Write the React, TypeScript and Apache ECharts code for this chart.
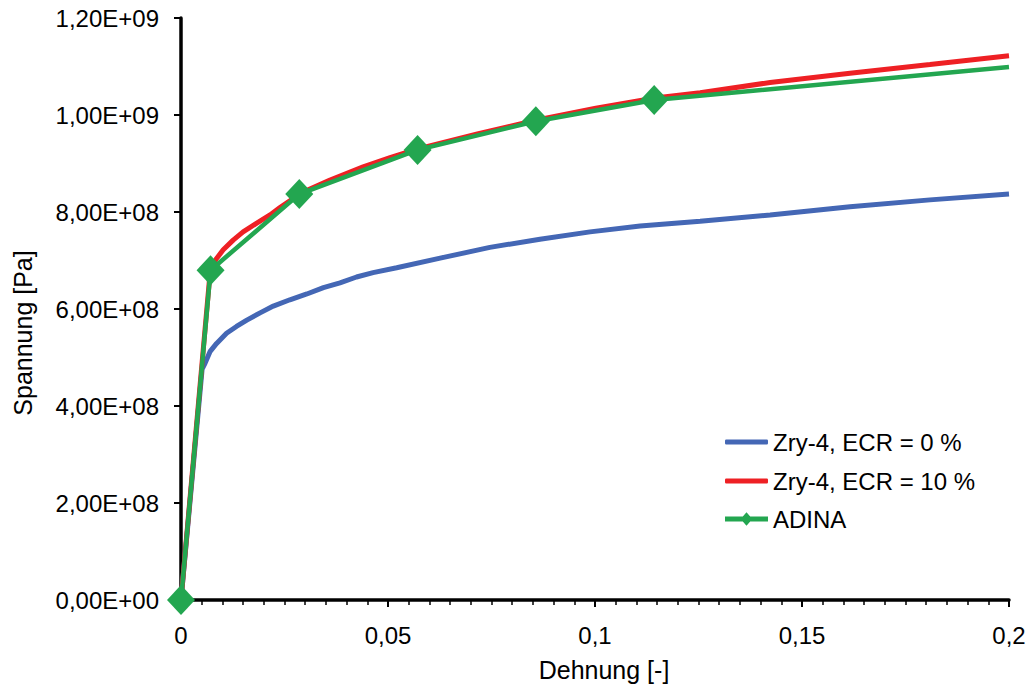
import React, { useEffect, useRef } from "react";
import * as echarts from "echarts";

const xTicks = { min: 0, max: 0.2, interval: 0.05 };
const yTicks = { min: 0, max: 1.2e9, interval: 2e8 };

const seriesNames = ["Zry-4, ECR = 0 %", "Zry-4, ECR = 10 %", "ADINA"];
const axisNames = { x: "Dehnung [-]", y: "Spannung [Pa]" };

const ecr0: [number, number][] = [
  [0, 0],
  [0.0051, 4.76e8],
  [0.0058, 4.88e8],
  [0.007, 5.12e8],
  [0.0086, 5.29e8],
  [0.011, 5.5e8],
  [0.0134, 5.64e8],
  [0.0159, 5.77e8],
  [0.0191, 5.92e8],
  [0.0223, 6.06e8],
  [0.0263, 6.19e8],
  [0.0304, 6.31e8],
  [0.0344, 6.44e8],
  [0.0384, 6.54e8],
  [0.0424, 6.66e8],
  [0.0464, 6.75e8],
  [0.0521, 6.85e8],
  [0.0626, 7.05e8],
  [0.0746, 7.27e8],
  [0.0867, 7.44e8],
  [0.0988, 7.59e8],
  [0.1109, 7.71e8],
  [0.1254, 7.81e8],
  [0.1423, 7.94e8],
  [0.1616, 8.11e8],
  [0.1809, 8.25e8],
  [0.2, 8.37e8],
];

const ecr10: [number, number][] = [
  [0, 0],
  [0.0071, 6.82e8],
  [0.0085, 7.03e8],
  [0.0102, 7.22e8],
  [0.0126, 7.42e8],
  [0.015, 7.59e8],
  [0.0183, 7.77e8],
  [0.0215, 7.94e8],
  [0.0239, 8.09e8],
  [0.0263, 8.23e8],
  [0.0287, 8.38e8],
  [0.036, 8.66e8],
  [0.044, 8.93e8],
  [0.0505, 9.12e8],
  [0.0572, 9.3e8],
  [0.0716, 9.61e8],
  [0.086, 9.9e8],
  [0.1002, 1.014e9],
  [0.1145, 1.035e9],
  [0.1254, 1.046e9],
  [0.1423, 1.067e9],
  [0.1616, 1.086e9],
  [0.1809, 1.104e9],
  [0.2, 1.122e9],
];

const adina: [number, number][] = [
  [0, 0],
  [0.00714, 6.8e8],
  [0.02857, 8.37e8],
  [0.05714, 9.28e8],
  [0.08571, 9.87e8],
  [0.11429, 1.031e9],
  [0.2, 1.099e9],
];

const colors = ["#4467b5", "#ee2024", "#23a650"];

const FONT = "Liberation Sans, Arial, sans-serif";

function fmtY(v: number): string {
  if (v === 0) return "0,00E+00";
  const e = Math.floor(Math.log10(v) + 1e-9);
  const m = v / Math.pow(10, e);
  const es = (e < 10 ? "0" : "") + e;
  return m.toFixed(2).replace(".", ",") + "E+" + es;
}

function fmtX(v: number): string {
  const r = Math.round(v * 1000) / 1000;
  return String(r).replace(".", ",");
}

const legendBase = {
  orient: "vertical",
  left: 725,
  padding: 0,
  itemWidth: 43,
  textStyle: { fontFamily: FONT, fontSize: 24, color: "#000" },
};

export default function App() {
  const ref = useRef<HTMLDivElement>(null);
  useEffect(() => {
    if (!ref.current) return;
    const chart = echarts.init(ref.current, undefined, { renderer: "svg" });
    const adinaData = adina.map((p, i) =>
      i === adina.length - 1 ? { value: p, symbol: "none" } : { value: p }
    );
    chart.setOption({
      animation: false,
      backgroundColor: "#ffffff",
      grid: { left: 181, right: 21, top: 18, bottom: 86, containLabel: false },
      legend: [
        {
          ...legendBase,
          top: 430,
          itemHeight: 5,
          data: [{ name: seriesNames[0], icon: "roundRect" }],
        },
        {
          ...legendBase,
          top: 469,
          itemHeight: 5,
          data: [{ name: seriesNames[1], icon: "roundRect" }],
        },
        {
          ...legendBase,
          top: 507,
          itemHeight: 14,
          data: [
            {
              name: seriesNames[2],
              icon: "path://M0,4.5L44,4.5L44,9.5L0,9.5ZM22,0L28,7L22,14L16,7Z",
            },
          ],
        },
      ],
      graphic: [
        {
          type: "text",
          x: 604,
          y: 670,
          style: {
            text: axisNames.x,
            font: `25px ${FONT}`,
            fill: "#000",
            textAlign: "center",
            textVerticalAlign: "middle",
          },
        },
        {
          type: "text",
          x: 23,
          y: 333,
          rotation: Math.PI / 2,
          style: {
            text: axisNames.y,
            font: `25px ${FONT}`,
            fill: "#000",
            textAlign: "center",
            textVerticalAlign: "middle",
          },
        },
      ],
      xAxis: {
        type: "value",
        min: xTicks.min,
        max: xTicks.max,
        interval: xTicks.interval,
        axisLine: { show: true, onZero: false, lineStyle: { color: "#000", width: 3.5 } },
        axisTick: { show: true, length: 7, lineStyle: { color: "#000", width: 2 } },
        minorTick: { show: true, splitNumber: 10, length: 5, lineStyle: { color: "#000", width: 1.5 } },
        splitLine: { show: false },
        axisLabel: {
          margin: 23,
          fontFamily: FONT,
          fontSize: 24,
          color: "#000",
          formatter: fmtX,
        },
      },
      yAxis: {
        type: "value",
        min: yTicks.min,
        max: yTicks.max,
        interval: yTicks.interval,
        axisLine: { show: true, onZero: false, lineStyle: { color: "#000", width: 3.5 } },
        axisTick: { show: true, length: 7, lineStyle: { color: "#000", width: 2 } },
        splitLine: { show: false },
        axisLabel: {
          margin: 22,
          fontFamily: FONT,
          fontSize: 24,
          color: "#000",
          formatter: fmtY,
        },
      },
      series: [
        {
          name: seriesNames[0],
          type: "line",
          data: ecr0,
          showSymbol: false,
          symbol: "none",
          lineStyle: { color: colors[0], width: 5 },
          itemStyle: { color: colors[0] },
        },
        {
          name: seriesNames[1],
          type: "line",
          data: ecr10,
          showSymbol: false,
          symbol: "none",
          lineStyle: { color: colors[1], width: 5 },
          itemStyle: { color: colors[1] },
        },
        {
          name: seriesNames[2],
          type: "line",
          data: adinaData,
          symbol: "diamond",
          symbolSize: [28, 30],
          lineStyle: { color: colors[2], width: 4.5 },
          itemStyle: { color: colors[2] },
        },
      ],
    });
    return () => chart.dispose();
  }, []);
  return (
    <div
      ref={ref}
      style={{ position: "absolute", left: 0, top: 0, width: 1030, height: 686 }}
    />
  );
}
